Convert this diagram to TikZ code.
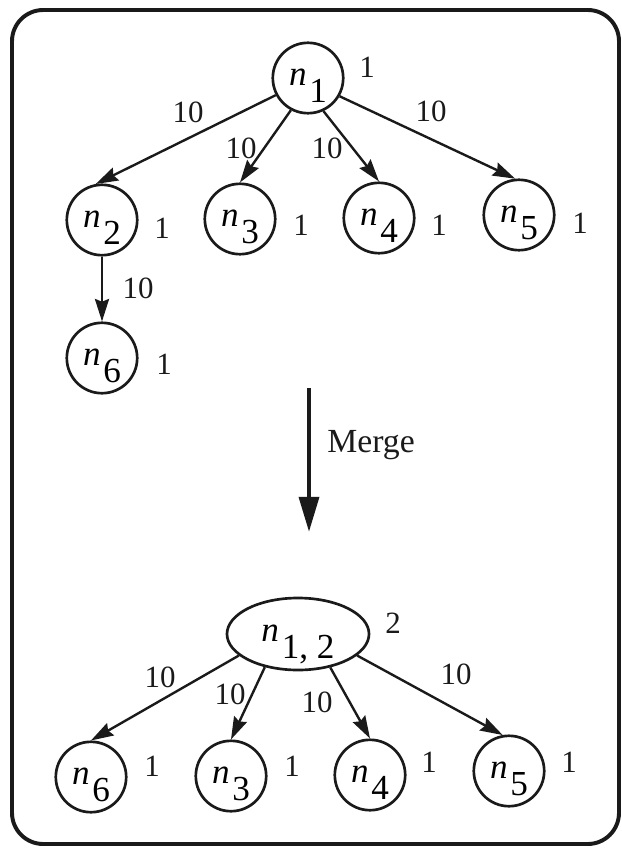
\documentclass[tikz,border=0pt]{standalone}
\usepackage{fontspec}
\setmainfont{Liberation Serif}
\usepackage{tikz}
\usetikzlibrary{positioning, shapes.geometric, arrows.meta}
\definecolor{graphInk}{HTML}{1A1A1A}
\newcommand{\tname}[1]{\smash{\raisebox{-0.2em}{\textit{n}\kern0.08em\raisebox{-0.5em}{#1}}}}

\begin{document}
\begin{tikzpicture}[x=0.025cm, y=-0.025cm,
  vtx/.style={draw=graphInk, line width=1.9pt, circle, minimum size=1.76cm,
              inner sep=0pt, font=\fontsize{25}{30}\selectfont},
  wt/.style={inner sep=0pt, text=graphInk, font=\fontsize{22}{26}\selectfont},
  edge/.style={draw=graphInk, line width=1.7pt,
               -{Stealth[length=16pt, width=10pt, inset=2pt]}}]

\useasboundingbox (0,0) rectangle (622,848);
\draw[graphInk, line width=2.8pt, rounded corners=0.78cm] (12,10) rectangle (619,844);

% before the merge
\node[vtx] (n1) at (308,78)  {\tname{1}};
\node[vtx] (n2) at (102,220) {\tname{2}};
\node[vtx] (n3) at (240,219) {\tname{3}};
\node[vtx] (n4) at (379,218) {\tname{4}};
\node[vtx] (n5) at (519,215) {\tname{5}};
\node[vtx] (n6) at (102,358) {\tname{6}};

\node[wt] (w1) at (367,67)  {1};
\node[wt] (w2) at (162,228) {1};
\node[wt] (w3) at (301,225) {1};
\node[wt] (w4) at (439,225) {1};
\node[wt] (w5) at (580,223) {1};
\node[wt] (w6) at (164,364) {1};

\draw[edge] (n1.208) -- (n2.100);
\draw[edge] (n1.242) -- (n3.north);
\draw[edge] (n1.295) -- (n4.north);
\draw[edge] (n1.330) -- (n5.96);
\draw[edge] (n2.south) -- (n6.north);

\node[wt] (c12) at (188,112) {10};
\node[wt] (c13) at (241,148) {10};
\node[wt] (c14) at (327,148) {10};
\node[wt] (c15) at (431,111) {10};
\node[wt] (c26) at (138,288) {10};

% merge step
\coordinate (mtop) at (309,388);
\coordinate (mbot) at (309,532);
\draw[graphInk, line width=3.2pt, -{Triangle[length=25pt, width=14pt]}] (mtop) -- (mbot);
\node[inner sep=0pt, text=graphInk, font=\fontsize{24}{28}\selectfont] (mlbl) at (371,445) {Merge};

% after the merge
\node[vtx, ellipse, minimum width=3.55cm, minimum height=1.8cm] (m12) at (298,634) {\tname{1, 2}};
\node[vtx] (b6) at (91,777)  {\tname{6}};
\node[vtx] (b3) at (231,776) {\tname{3}};
\node[vtx] (b4) at (370,775) {\tname{4}};
\node[vtx] (b5) at (509,771) {\tname{5}};

\node[wt] (v12) at (393,623) {2};
\node[wt] (v6) at (152,766) {1};
\node[wt] (v3) at (292,766) {1};
\node[wt] (v4) at (429,762) {1};
\node[wt] (v5) at (569,762) {1};

\draw[edge] (m12.200) -- (b6.north);
\draw[edge] (m12.225) -- (b3.north);
\draw[edge] (m12.314) -- (b4.north);
\draw[edge] (m12.340) -- (b5.100);

\node[wt] (d6) at (160,677) {10};
\node[wt] (d3) at (230,694) {10};
\node[wt] (d4) at (317,702) {10};
\node[wt] (d5) at (456,674) {10};
\end{tikzpicture}
\end{document}
